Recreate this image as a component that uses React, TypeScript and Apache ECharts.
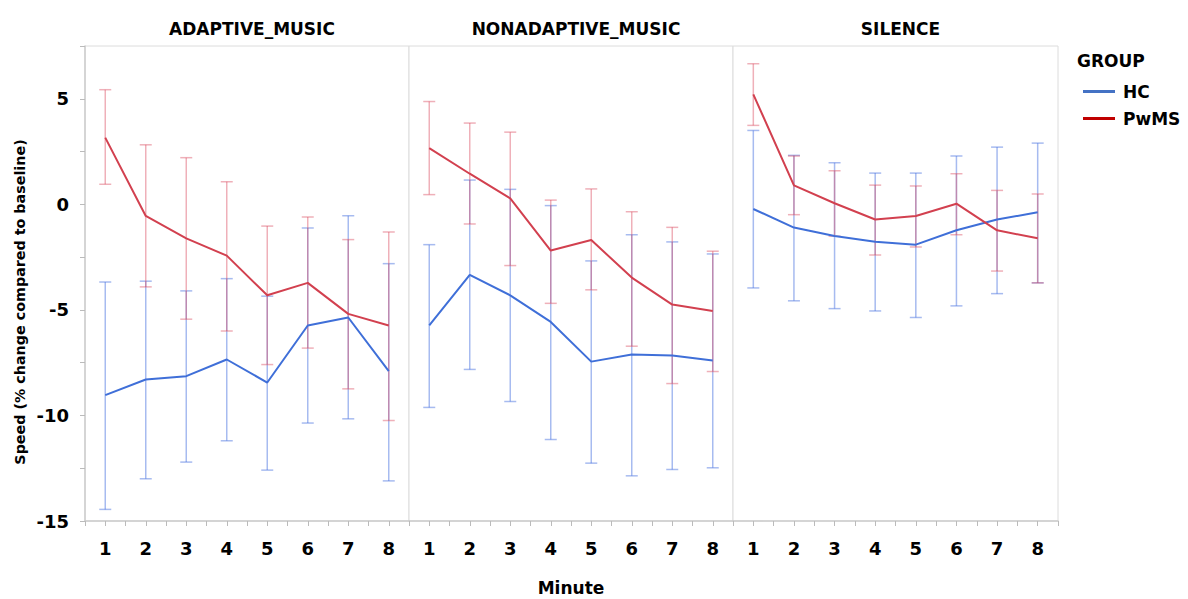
import React, { useEffect, useRef } from "react";
import * as echarts from "echarts";

const minutes = [1, 2, 3, 4, 5, 6, 7, 8];
const panels = ["ADAPTIVE_MUSIC", "NONADAPTIVE_MUSIC", "SILENCE"];
const groups = ["HC", "PwMS"];
const yTickLabels = [5, 0, -5, -10, -15];

const adaptiveHcMean = [-9.04, -8.3, -8.14, -7.35, -8.44, -5.74, -5.36, -7.9];
const adaptiveHcLow = [-14.45, -13.0, -12.21, -11.2, -12.59, -10.36, -10.16, -13.1];
const adaptiveHcHigh = [-3.68, -3.64, -4.1, -3.52, -4.35, -1.12, -0.54, -2.81];
const adaptivePwmsMean = [3.16, -0.55, -1.61, -2.43, -4.31, -3.72, -5.19, -5.74];
const adaptivePwmsLow = [0.95, -3.91, -5.44, -6.0, -7.59, -6.81, -8.74, -10.24];
const adaptivePwmsHigh = [5.43, 2.82, 2.21, 1.07, -1.03, -0.6, -1.67, -1.31];

const nonadaptiveHcMean = [-5.73, -3.34, -4.31, -5.57, -7.45, -7.11, -7.16, -7.4];
const nonadaptiveHcLow = [-9.62, -7.82, -9.34, -11.14, -12.26, -12.86, -12.56, -12.48];
const nonadaptiveHcHigh = [-1.91, 1.15, 0.71, -0.06, -2.68, -1.44, -1.78, -2.35];
const nonadaptivePwmsMean = [2.66, 1.45, 0.28, -2.19, -1.69, -3.47, -4.75, -5.05];
const nonadaptivePwmsLow = [0.46, -0.93, -2.9, -4.69, -4.05, -6.72, -8.49, -7.92];
const nonadaptivePwmsHigh = [4.87, 3.85, 3.42, 0.2, 0.73, -0.35, -1.09, -2.22];

const silenceHcMean = [-0.22, -1.1, -1.5, -1.77, -1.91, -1.23, -0.72, -0.38];
const silenceHcLow = [-3.96, -4.57, -4.94, -5.05, -5.36, -4.81, -4.23, -3.72];
const silenceHcHigh = [3.5, 2.32, 1.97, 1.48, 1.48, 2.29, 2.71, 2.9];
const silencePwmsMean = [5.21, 0.9, 0.05, -0.72, -0.55, 0.03, -1.23, -1.61];
const silencePwmsLow = [3.74, -0.49, -1.51, -2.4, -2.02, -1.44, -3.16, -3.72];
const silencePwmsHigh = [6.66, 2.29, 1.59, 0.91, 0.87, 1.45, 0.66, 0.49];

const panelData = [
  {
    hc: [adaptiveHcMean, adaptiveHcLow, adaptiveHcHigh],
    pwms: [adaptivePwmsMean, adaptivePwmsLow, adaptivePwmsHigh],
  },
  {
    hc: [nonadaptiveHcMean, nonadaptiveHcLow, nonadaptiveHcHigh],
    pwms: [nonadaptivePwmsMean, nonadaptivePwmsLow, nonadaptivePwmsHigh],
  },
  {
    hc: [silenceHcMean, silenceHcLow, silenceHcHigh],
    pwms: [silencePwmsMean, silencePwmsLow, silencePwmsHigh],
  },
];

const FONT = "DejaVu Sans";
const HC_LINE = "#3f6fd8";
const PWMS_LINE = "#d2404f";
const HC_ERR = "rgba(80,120,225,0.5)";
const PWMS_ERR = "rgba(220,80,100,0.45)";

const gridLefts = [85, 409, 733];
const gridWidths = [324, 324, 325];

function errRender(color: string) {
  return (params: any, api: any) => {
    const x = api.value(0);
    const lo = api.coord([x, api.value(1)]);
    const hi = api.coord([x, api.value(2)]);
    const hw = 6;
    const style = { stroke: color, lineWidth: 1.5 };
    return {
      type: "group",
      children: [
        { type: "line", shape: { x1: lo[0], y1: lo[1], x2: hi[0], y2: hi[1] }, style },
        { type: "line", shape: { x1: lo[0] - hw, y1: lo[1], x2: lo[0] + hw, y2: lo[1] }, style },
        { type: "line", shape: { x1: hi[0] - hw, y1: hi[1], x2: hi[0] + hw, y2: hi[1] }, style },
      ],
    };
  };
}

export default function App() {
  const ref = useRef<HTMLDivElement>(null);
  useEffect(() => {
    if (!ref.current) return;
    const chart = echarts.init(ref.current, undefined, { renderer: "svg" });

    const series: any[] = [];
    panelData.forEach((pd, i) => {
      const defs = [
        { name: "HC", d: pd.hc, line: HC_LINE, err: HC_ERR },
        { name: "PwMS", d: pd.pwms, line: PWMS_LINE, err: PWMS_ERR },
      ];
      defs.forEach((g) => {
        series.push({
          type: "custom",
          name: g.name + " error " + i,
          xAxisIndex: i,
          yAxisIndex: i,
          renderItem: errRender(g.err),
          encode: { x: 0, y: [1, 2] },
          data: minutes.map((m, k) => [m, g.d[1][k], g.d[2][k]]),
          z: 2,
          silent: true,
        });
      });
      defs.forEach((g) => {
        series.push({
          type: "line",
          name: g.name,
          xAxisIndex: i,
          yAxisIndex: i,
          data: minutes.map((m, k) => [m, g.d[0][k]]),
          showSymbol: false,
          symbol: "none",
          lineStyle: { color: g.line, width: 2 },
          itemStyle: { color: g.line },
          z: 3,
        });
      });
    });

    const option: any = {
      animation: false,
      textStyle: { fontFamily: FONT },
      title: panels.map((p, i) => ({
        text: p,
        left: gridLefts[i] + gridWidths[i] / 2,
        top: 15,
        textAlign: "center",
        textStyle: { fontFamily: FONT, fontSize: 17, fontWeight: "bold", color: "#000" },
      })),
      legend: {
        orient: "vertical",
        left: 1078,
        top: 78,
        icon: "rect",
        itemWidth: 32,
        itemHeight: 3,
        itemGap: 10,
        selectedMode: false,
        textStyle: { fontFamily: FONT, fontSize: 17, fontWeight: "bold", color: "#000", padding: [0, 0, 0, 3] },
        data: [
          { name: groups[0], itemStyle: { color: "#4472c4" }, lineStyle: { color: "#4472c4" } },
          { name: groups[1], itemStyle: { color: "#c00000" }, lineStyle: { color: "#c00000" } },
        ],
      },
      graphic: [
        {
          type: "text",
          left: 1077,
          top: 52,
          style: { text: "GROUP", fontFamily: FONT, fontSize: 17, fontWeight: "bold", fill: "#000" },
        },
        {
          type: "text",
          x: 20,
          y: 302,
          rotation: Math.PI / 2,
          style: {
            text: "Speed (% change compared to baseline)",
            fontFamily: FONT,
            fontSize: 14.3,
            fontWeight: "bold",
            fill: "#000",
            align: "center",
            verticalAlign: "middle",
          },
        },
      ],
      grid: gridLefts.map((l, i) => ({
        left: l,
        top: 46,
        width: gridWidths[i],
        height: 475,
        show: true,
        borderColor: "#dcdcdc",
        borderWidth: 1,
        backgroundColor: "#fff",
        containLabel: false,
        outerBoundsMode: "none",
      })),
      xAxis: gridLefts.map((_, i) => ({
        type: "value",
        gridIndex: i,
        min: 0.5,
        max: 8.5,
        interval: 0.5,
        splitLine: { show: false },
        axisLine: { show: true, onZero: false, lineStyle: { color: "#cccccc", width: 1.5 } },
        axisTick: { show: true, length: 5, lineStyle: { color: "#bbbbbb" } },
        axisLabel: {
          margin: 18,
          fontFamily: FONT,
          fontSize: 18,
          fontWeight: "bold",
          color: "#000",
          formatter: (v: number) => (Number.isInteger(v) && minutes.includes(v) ? String(v) : ""),
        },
        name: i === 1 ? "Minute" : "",
        nameLocation: "middle",
        nameGap: 58,
        nameTextStyle: { fontFamily: FONT, fontSize: 17, fontWeight: "bold", color: "#000" },
      })),
      yAxis: gridLefts.map((_, i) => ({
        type: "value",
        gridIndex: i,
        min: -15,
        max: 7.5,
        interval: 2.5,
        splitLine: { show: false },
        axisLine: { show: i === 0, onZero: false, lineStyle: { color: "#cccccc", width: 1.5 } },
        axisTick: { show: i === 0, length: 5, lineStyle: { color: "#bbbbbb" } },
        axisLabel: {
          show: i === 0,
          margin: 16,
          fontFamily: FONT,
          fontSize: 18,
          fontWeight: "bold",
          color: "#000",
          formatter: (v: number) => (yTickLabels.includes(v) ? String(v) : ""),
        },
      })),
      series,
    };
    chart.setOption(option);
    return () => chart.dispose();
  }, []);
  return (
    <div
      ref={ref}
      style={{ position: "absolute", left: 0, top: 0, width: 1188, height: 599, background: "#fff" }}
    />
  );
}
